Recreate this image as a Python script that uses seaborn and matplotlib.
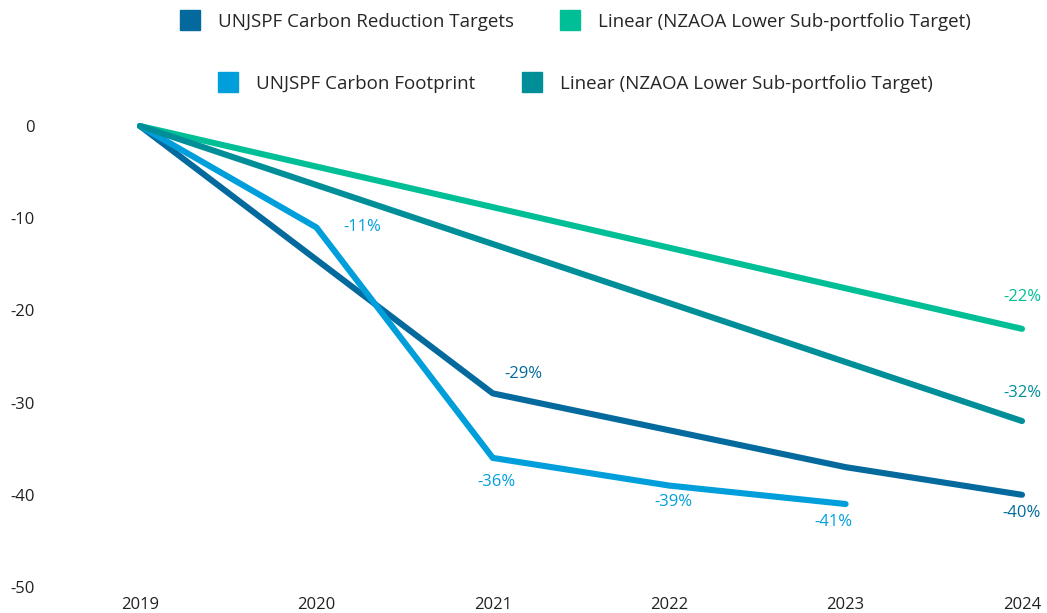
import matplotlib
matplotlib.use("Agg")
import matplotlib.pyplot as plt
from matplotlib.lines import Line2D
import pandas as pd
import seaborn as sns

years = [2019, 2020, 2021, 2022, 2023, 2024]
reduction_targets = [0, -14.5, -29, -33, -37, -40]
carbon_footprint = [0, -11, -36, -39, -41, None]
nzaoa_upper = [0, -4.4, -8.8, -13.2, -17.6, -22]
nzaoa_lower = [0, -6.4, -12.8, -19.2, -25.6, -32]

series_keys = ["targets", "footprint", "nzaoa_a", "nzaoa_b"]
series_labels = ["UNJSPF Carbon Reduction Targets", "UNJSPF Carbon Footprint",
                 "Linear (NZAOA Lower Sub-portfolio Target)",
                 "Linear (NZAOA Lower Sub-portfolio Target)"]
colors = ["#046a9e", "#009fdc", "#00bf97", "#008f98"]

df = pd.DataFrame({"year": years * 4,
                   "value": reduction_targets + carbon_footprint + nzaoa_upper + nzaoa_lower,
                   "series": sum([[k] * len(years) for k in series_keys], [])}).dropna()

sns.set_style("white")
plt.rcParams["font.family"] = ["Open Sans", "DejaVu Sans"]
plt.rcParams["axes.unicode_minus"] = False

W, H = 1047, 613
fig = plt.figure(figsize=(W / 100, H / 100), dpi=100)
ax = fig.add_axes([140 / W, 1 - 587 / H, (1022 - 140) / W, (587 - 126) / H])

sns.lineplot(data=df, x="year", y="value", hue="series", hue_order=series_keys,
             palette=dict(zip(series_keys, colors)), linewidth=4.4, legend=False, ax=ax)
for ln in ax.lines:
    ln.set_clip_on(False)
    ln.set_solid_capstyle("round")
    ln.set_solid_joinstyle("round")

ax.set_xlim(2019, 2024)
ax.set_ylim(-50, 0)
ax.set_xticks(years)
ax.set_yticks([0, -10, -20, -30, -40, -50])
ax.set_xlabel("")
ax.set_ylabel("")
sns.despine(ax=ax, left=True, bottom=True)
ax.tick_params(axis="y", length=0, pad=76, labelsize=12, labelcolor="#222222")
ax.tick_params(axis="x", length=0, pad=7, labelsize=12, labelcolor="#222222")

# data labels: (year, value, text, colour index, dx px, dy px)
label_pts = [(2020, -11, "-11%", 1, 46, 0), (2021, -29, "-29%", 0, 31, 19),
             (2021, -36, "-36%", 1, 4, -24), (2022, -39, "-39%", 1, 4, -16),
             (2023, -41, "-41%", 1, -12, -18), (2024, -40, "-40%", 0, 0, -18),
             (2024, -22, "-22%", 2, 0, 32), (2024, -32, "-32%", 3, 0, 28)]
for x, y, t, ci, dx, dy in label_pts:
    ax.annotate(t, (x, y), xytext=(dx, dy), textcoords="offset pixels",
                ha="center", va="center", fontsize=12, color=colors[ci],
                annotation_clip=False)

def handle(c):
    return Line2D([], [], marker="s", linestyle="none", markersize=14.4,
                  markerfacecolor=c, markeredgecolor=c)

leg_kw = dict(loc="center", ncol=2, frameon=False, fontsize=13.5, handletextpad=1.0,
              columnspacing=2.5, handlelength=1.0)
fig.legend([handle(colors[0]), handle(colors[2])], [series_labels[0], series_labels[2]],
           bbox_to_anchor=(576 / W, 1 - 22 / H), **leg_kw)
fig.legend([handle(colors[1]), handle(colors[3])], [series_labels[1], series_labels[3]],
           bbox_to_anchor=(576 / W, 1 - 84 / H), **leg_kw)

fig.savefig("out.png", dpi=100)
